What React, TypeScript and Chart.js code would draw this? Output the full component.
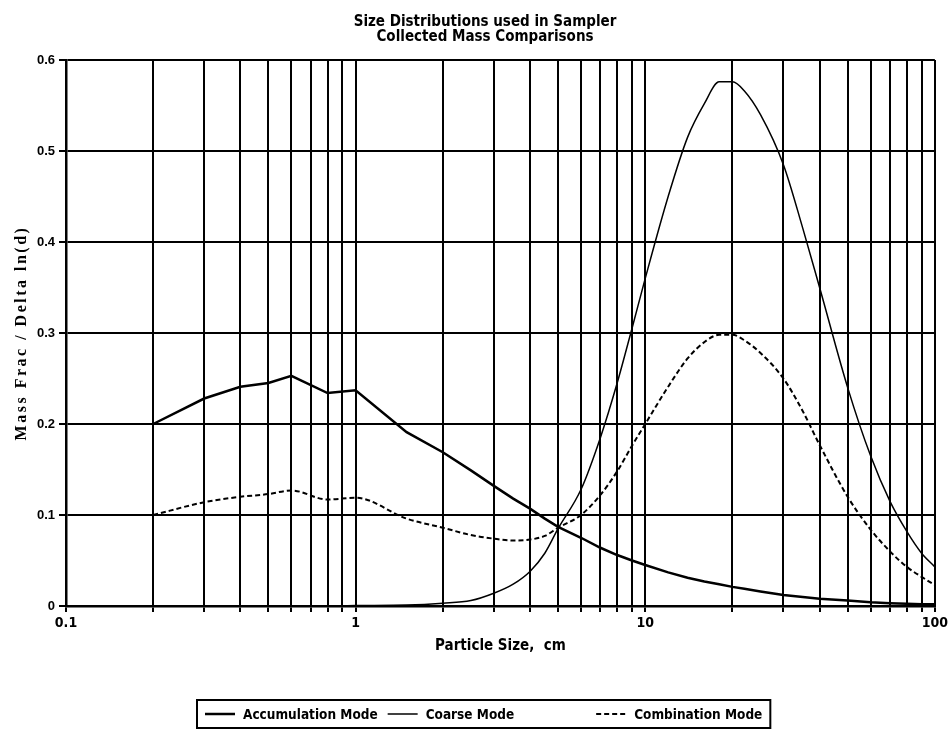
import React, { useEffect, useRef } from 'react';
import { Chart, registerables } from 'chart.js';

Chart.register(...registerables);

// ---- data ----
const titleLines = ['Size Distributions used in Sampler', 'Collected Mass Comparisons'];
const xAxisTitle = 'Particle Size,  cm';
const yAxisTitle = 'Mass Frac / Delta ln(d)';

const sizes = [0.2, 0.3, 0.4, 0.5, 0.6, 0.8, 1, 1.5, 2, 2.5, 3, 3.5, 4, 4.5, 5, 6, 7, 8, 9, 10, 12, 14, 16, 18, 20, 22, 25, 30, 35, 40, 50, 60, 70, 80, 90, 100];
const accumulation = [0.200, 0.228, 0.241, 0.245, 0.253, 0.234, 0.237, 0.191, 0.169, 0.149, 0.132, 0.118, 0.107, 0.096, 0.087, 0.075, 0.064, 0.056, 0.050, 0.045, 0.037, 0.031, 0.027, 0.024, 0.021, 0.019, 0.016, 0.012, 0.010, 0.008, 0.006, 0.004, 0.003, 0.0025, 0.002, 0.002];
const coarse = [0, 0, 0, 0, 0, 0, 0.0005, 0.001, 0.003, 0.006, 0.014, 0.024, 0.038, 0.058, 0.085, 0.128, 0.185, 0.245, 0.305, 0.36, 0.45, 0.515, 0.552, 0.576, 0.576, 0.566, 0.54, 0.485, 0.415, 0.35, 0.24, 0.165, 0.115, 0.082, 0.058, 0.043];
const combination = [0.100, 0.114, 0.120, 0.123, 0.127, 0.117, 0.119, 0.096, 0.086, 0.078, 0.074, 0.072, 0.073, 0.077, 0.086, 0.100, 0.122, 0.148, 0.176, 0.200, 0.241, 0.272, 0.290, 0.298, 0.298, 0.292, 0.278, 0.250, 0.214, 0.177, 0.120, 0.084, 0.060, 0.043, 0.032, 0.023];

const seriesLabels = ['Accumulation Mode', 'Coarse Mode', 'Combination Mode'];

const xTickValues = [0.1, 0.2, 0.3, 0.4, 0.5, 0.6, 0.7, 0.8, 0.9, 1, 2, 3, 4, 5, 6, 7, 8, 9, 10, 20, 30, 40, 50, 60, 70, 80, 90, 100];
const xTickLabels = ['0.1', '1', '10', '100'];
const yTickLabels = ['0', '0.1', '0.2', '0.3', '0.4', '0.5', '0.6'];

const NARROW = '"Liberation Sans Narrow", "DejaVu Sans Condensed", "Roboto Condensed", sans-serif';
const SERIF = '"Liberation Serif", "DejaVu Serif", serif';

const titlePlugin = {
  id: 'scanTitle',
  afterDraw(chart: any) {
    const ctx = chart.ctx;
    const area = chart.chartArea;
    ctx.save();
    ctx.fillStyle = '#000';
    ctx.textAlign = 'center';
    ctx.textBaseline = 'middle';
    // main title
    ctx.font = `bold 15px ${NARROW}`;
    titleLines.forEach((t, i) => ctx.fillText(t, 485, 22 + i * 15));
    // y axis title with wide letter spacing like the typewriter original
    ctx.translate(22, (area.top + area.bottom) / 2);
    ctx.rotate(-Math.PI / 2);
    ctx.font = `bold 16px ${SERIF}`;
    try { (ctx as any).letterSpacing = '2.5px'; } catch (e) { /* ignore */ }
    ctx.fillText(yAxisTitle, 0, 0);
    ctx.restore();
  },
};

const legendPlugin = {
  id: 'boxLegend',
  afterDraw(chart: any) {
    const ctx = chart.ctx;
    ctx.save();
    ctx.fillStyle = '#000';
    ctx.strokeStyle = '#000';
    ctx.font = `bold 13.5px ${NARROW}`;
    ctx.textBaseline = 'middle';
    ctx.textAlign = 'left';
    const boxLeft = 197;
    const top = 700;
    const h = 28;
    const cy = top + h / 2;
    const gaps = [8, 10, 82];
    let x = boxLeft;
    chart.data.datasets.forEach((ds: any, i: number) => {
      x += gaps[i];
      ctx.beginPath();
      ctx.setLineDash(ds.borderDash || []);
      ctx.lineWidth = ds.borderWidth;
      ctx.moveTo(x, cy);
      ctx.lineTo(x + 30, cy);
      ctx.stroke();
      ctx.setLineDash([]);
      x += 30 + 8;
      ctx.fillText(ds.label, x, cy + 1);
      x += ctx.measureText(ds.label).width;
    });
    ctx.lineWidth = 2;
    ctx.strokeRect(boxLeft, top, x + 8 - boxLeft, h);
    ctx.restore();
  },
};

export default function App() {
  const canvasRef = useRef<HTMLCanvasElement | null>(null);

  useEffect(() => {
    const canvas = canvasRef.current;
    if (!canvas) return;
    const toPoints = (vals: number[]) => sizes.map((s, i) => ({ x: s, y: vals[i] }));
    const chart = new Chart(canvas, {
      type: 'line',
      data: {
        datasets: [
          {
            label: seriesLabels[0],
            data: toPoints(accumulation),
            borderColor: '#000',
            borderWidth: 2.5,
            pointRadius: 0,
            tension: 0,
            fill: false,
          },
          {
            label: seriesLabels[1],
            data: toPoints(coarse),
            borderColor: '#000',
            borderWidth: 1.5,
            pointRadius: 0,
            cubicInterpolationMode: 'monotone',
            fill: false,
          },
          {
            label: seriesLabels[2],
            data: toPoints(combination),
            borderColor: '#000',
            borderWidth: 2,
            borderDash: [5, 3],
            pointRadius: 0,
            cubicInterpolationMode: 'monotone',
            fill: false,
          },
        ],
      },
      options: {
        animation: false,
        responsive: false,
        devicePixelRatio: 1,
        layout: { padding: { left: 0, right: 14, top: 60, bottom: 73 } },
        plugins: {
          legend: { display: false },
          title: { display: false },
          tooltip: { enabled: false },
        },
        scales: {
          x: {
            type: 'logarithmic',
            min: 0.1,
            max: 100,
            afterBuildTicks: (scale: any) => {
              scale.ticks = xTickValues.map((v) => ({ value: v }));
            },
            afterFit: (scale: any) => {
              scale.height = 55;
            },
            ticks: {
              autoSkip: false,
              maxRotation: 0,
              minRotation: 0,
              padding: 3,
              color: '#000',
              font: { family: NARROW, size: 14, weight: 'bold' },
              callback: (value: any) => {
                const s = String(Number(value));
                return xTickLabels.includes(s) ? s : '';
              },
            },
            grid: { color: '#000', lineWidth: 2, tickLength: 6, drawTicks: true },
            border: { color: '#000', width: 2.5 },
            title: {
              display: true,
              text: xAxisTitle,
              color: '#000',
              font: { family: NARROW, size: 15, weight: 'bold' },
              padding: { top: 0, bottom: 6 },
            },
          },
          y: {
            type: 'linear',
            min: 0,
            max: 0.6,
            afterBuildTicks: (scale: any) => {
              scale.ticks = yTickLabels.map((t) => ({ value: Number(t) }));
            },
            afterFit: (scale: any) => {
              scale.width = 66;
            },
            ticks: {
              padding: 4,
              color: '#000',
              font: { family: '"Liberation Sans", Arial, sans-serif', size: 13, weight: 'bold' },
              callback: (value: any) => {
                const idx = yTickLabels.findIndex((t) => Math.abs(Number(t) - Number(value)) < 1e-9);
                return idx >= 0 ? yTickLabels[idx] : '';
              },
            },
            grid: { color: '#000', lineWidth: 2, tickLength: 7, drawTicks: true },
            border: { color: '#000', width: 2.5 },
            title: { display: false },
          },
        },
      },
      plugins: [titlePlugin, legendPlugin],
    } as any);
    return () => chart.destroy();
  }, []);

  return (
    <div style={{ position: 'absolute', left: 0, top: 0, width: 951, height: 734, background: '#fff' }}>
      <canvas ref={canvasRef} width={951} height={734} style={{ display: 'block', width: 951, height: 734 }} />
    </div>
  );
}
